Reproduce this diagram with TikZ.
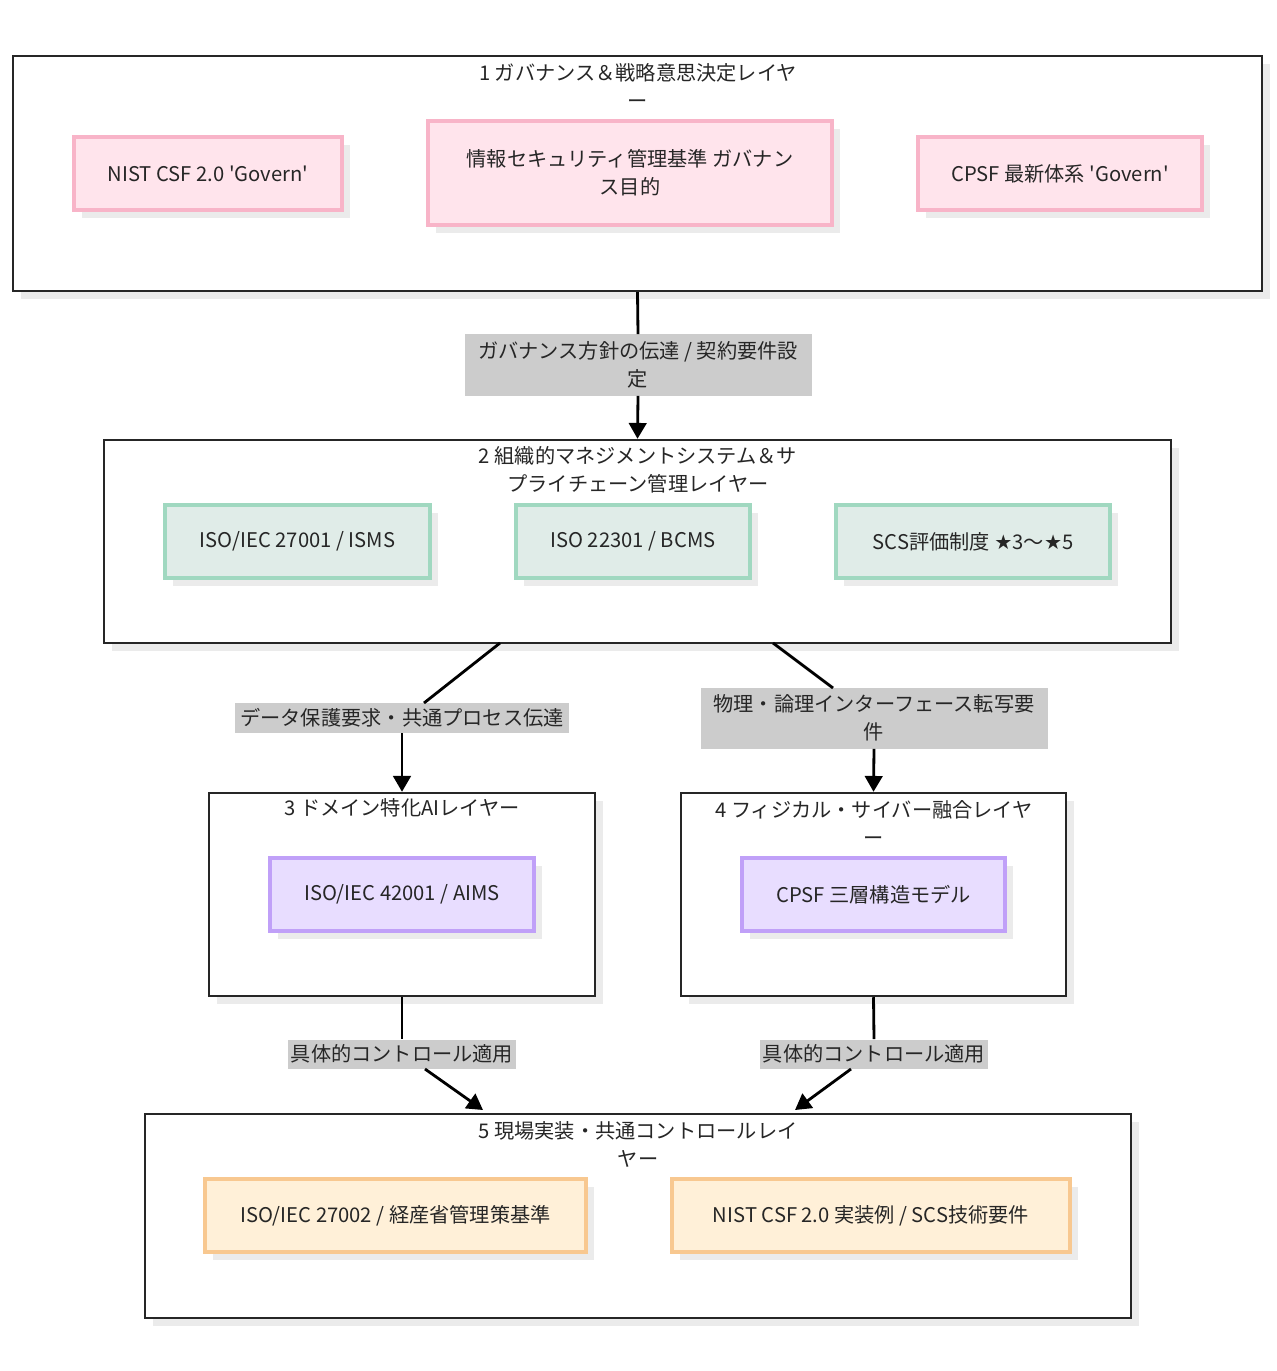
\documentclass[tikz,border=0pt]{standalone}
\usepackage{fontspec}
\setmainfont{Noto Sans CJK JP}
\usetikzlibrary{fit,shadows,arrows.meta}
\definecolor{pinkfill}{HTML}{FFE4EC}\definecolor{pinkline}{HTML}{F8B4C8}
\definecolor{greenfill}{HTML}{E0ECE8}\definecolor{greenline}{HTML}{A0D8C0}
\definecolor{purplefill}{HTML}{E8DDFF}\definecolor{purpleline}{HTML}{C0A0F8}
\definecolor{orangefill}{HTML}{FFF0D8}\definecolor{orangeline}{HTML}{F8C890}
\definecolor{labelgray}{HTML}{CCCCCC}
\tikzset{
  every node/.style={font=\fontsize{11.5}{16}\selectfont, text=black!85},
  shade box/.style={inner sep=0pt, line width=1.4pt,
    drop shadow={shadow xshift=0.16cm, shadow yshift=-0.16cm, fill=black!8, opacity=1}},
  layer/.style={shade box, draw=black!85, fill=white},
  pinkbox/.style={shade box, line width=2pt, draw=pinkline, fill=pinkfill},
  greenbox/.style={shade box, line width=2pt, draw=greenline, fill=greenfill},
  purplebox/.style={shade box, line width=2pt, draw=purpleline, fill=purplefill},
  orangebox/.style={shade box, line width=2pt, draw=orangeline, fill=orangefill},
  edgelabel/.style={fill=labelgray, inner sep=0pt, align=center},
  flow/.style={line width=1.6pt, -{Triangle[length=9pt,width=10pt]}},
  plain/.style={line width=1.6pt}
}
\begin{document}
\begin{tikzpicture}[x=0.02cm, y=-0.02cm]
		\useasboundingbox (0,0) rectangle (1276,1371);
		
		% Layer 1
		\node[layer, fit={(13,56)(1262,291)}] (gov) {};
		\node[align=center] (govtitle) at (638,86) {1 ガバナンス＆戦略意思決定レイヤ\\ー};
		\node[pinkbox, fit={(74,137)(342,210)}] (nist) {};
		\node at (nist.center) {NIST CSF 2.0 \textquotesingle Govern\textquotesingle};
		\node[pinkbox, fit={(428,121)(832,225)}] (kijun) {};
		\node[align=center] at (kijun.center) {情報セキュリティ管理基準 ガバナン\\ス目的};
		\node[pinkbox, fit={(918,137)(1202,210)}] (cpsfgov) {};
		\node at (cpsfgov.center) {CPSF 最新体系 \textquotesingle Govern\textquotesingle};
		
		% Layer 2
		\node[layer, fit={(104,440)(1171,643)}] (mgmt) {};
		\node[align=center] (mgmttitle) at (638,470) {2 組織的マネジメントシステム＆サ\\プライチェーン管理レイヤー};
		\node[greenbox, fit={(165,505)(430,578)}] (isms) {};
		\node at (isms.center) {ISO/IEC 27001 / ISMS};
		\node[greenbox, fit={(516,505)(750,578)}] (bcms) {};
		\node at (bcms.center) {ISO 22301 / BCMS};
		\node[greenbox, fit={(836,505)(1110,578)}] (scs) {};
		\node at (scs.center) {SCS評価制度 {\fontspec{DejaVu Sans}★}3〜{\fontspec{DejaVu Sans}★}5};
		
		% Layer 3 and 4
		\node[layer, fit={(209,793)(595,996)}] (ai) {};
		\node (aititle) at (402,808) {3 ドメイン特化AIレイヤー};
		\node[purplebox, fit={(270,858)(534,931)}] (aims) {};
		\node at (aims.center) {ISO/IEC 42001 / AIMS};
		\node[layer, fit={(681,793)(1066,996)}] (phys) {};
		\node[align=center] (phystitle) at (874,823) {4 フィジカル・サイバー融合レイヤ\\ー};
		\node[purplebox, fit={(742,858)(1005,931)}] (cpsf) {};
		\node at (cpsf.center) {CPSF 三層構造モデル};
		
		% Layer 5
		\node[layer, fit={(145,1114)(1131,1318)}] (impl) {};
		\node[align=center] (impltitle) at (638,1144) {5 現場実装・共通コントロールレイ\\ヤー};
		\node[orangebox, fit={(205,1179)(586,1252)}] (iso27002) {};
		\node at (iso27002.center) {ISO/IEC 27002 / 経産省管理策基準};
		\node[orangebox, fit={(672,1179)(1070,1252)}] (nistimpl) {};
		\node at (nistimpl.center) {NIST CSF 2.0 実装例 / SCS技術要件};
		
		% Connectors
		\coordinate (m2l) at (500,643);
		\coordinate (m2r) at (773,643);
		\coordinate (i5l) at (483,1110);
		\coordinate (i5r) at (795,1110);
		\node[edgelabel, minimum width=347*0.02cm, minimum height=61*0.02cm] (lab1) at (638,365) {ガバナンス方針の伝達 / 契約要件設\\定};
		\node[edgelabel, minimum width=334*0.02cm, minimum height=30*0.02cm] (lab2) at (402,718) {データ保護要求・共通プロセス伝達};
		\node[edgelabel, minimum width=347*0.02cm, minimum height=61*0.02cm] (lab3) at (874,718) {物理・論理インターフェース転写要\\件};
		\node[edgelabel, minimum width=228*0.02cm, minimum height=29*0.02cm] (lab4) at (402,1054) {具体的コントロール適用};
		\node[edgelabel, minimum width=228*0.02cm, minimum height=29*0.02cm] (lab5) at (874,1054) {具体的コントロール適用};
		
		\draw[plain] (gov.south) -- (lab1.north);
		\draw[flow] (lab1.south) -- (mgmt.north);
		\draw[plain] (m2l) -- (424,703);
		\draw[flow] (lab2.south) -- (ai.north);
		\draw[plain] (m2r) -- (833,688);
		\draw[flow] (lab3.south) -- (phys.north);
		\draw[plain] (ai.south) -- (lab4.north);
		\draw[flow] (425,1069) -- (i5l);
		\draw[plain] (phys.south) -- (lab5.north);
		\draw[flow] (851,1069) -- (i5r);
	\end{tikzpicture}
\end{document}
